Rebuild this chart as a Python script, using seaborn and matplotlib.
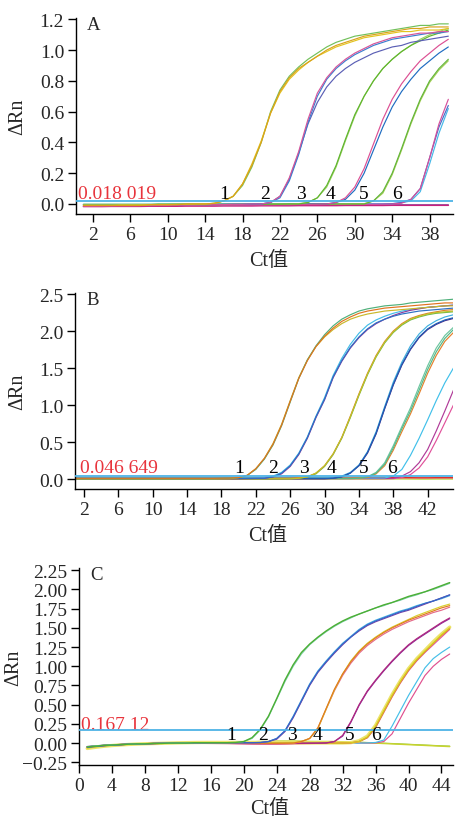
import matplotlib
matplotlib.use("Agg")
import matplotlib.pyplot as plt
import pandas as pd
import seaborn as sns

# ------------------------------------------------------------------ data
# ---------- panel A (cycles 1..40)
A_cycles = list(range(1, 41))
A_g1_orange = [-0.01, -0.01, -0.01, -0.01, -0.01, -0.01, -0.01, -0.005, -0.005, -0.005,
               -0.005, 0.0, 0.0, 0.0, 0.005, 0.02, 0.05, 0.13, 0.25, 0.40,
               0.59, 0.73, 0.82, 0.88, 0.92, 0.96, 1.00, 1.03, 1.05, 1.07,
               1.09, 1.10, 1.11, 1.12, 1.13, 1.14, 1.14, 1.15, 1.15, 1.15]
A_g1_green = [-0.005, -0.005, -0.005, -0.005, -0.005, -0.005, -0.005, -0.005, 0.0, 0.0,
              0.0, 0.0, 0.0, 0.0, 0.005, 0.02, 0.05, 0.12, 0.24, 0.40,
              0.60, 0.74, 0.83, 0.89, 0.94, 0.98, 1.02, 1.05, 1.07, 1.09,
              1.10, 1.11, 1.12, 1.13, 1.14, 1.15, 1.16, 1.16, 1.17, 1.17]
A_g1_yellow = [-0.008, -0.008, -0.008, -0.008, -0.006, -0.006, -0.006, -0.004, -0.004, -0.004,
               -0.002, -0.002, 0.0, 0.0, 0.004, 0.02, 0.05, 0.13, 0.26, 0.41,
               0.59, 0.72, 0.81, 0.87, 0.92, 0.96, 0.99, 1.02, 1.04, 1.06,
               1.08, 1.09, 1.10, 1.11, 1.12, 1.12, 1.13, 1.13, 1.13, 1.14]
A_g2_pink = [-0.012, -0.012, -0.012, -0.010, -0.010, -0.010, -0.010, -0.008, -0.008, -0.008,
             -0.006, -0.006, -0.006, -0.004, -0.004, -0.004, -0.002, -0.002, 0.0, 0.0,
             0.01, 0.05, 0.17, 0.34, 0.55, 0.72, 0.82, 0.89, 0.94, 0.98,
             1.01, 1.04, 1.06, 1.08, 1.09, 1.10, 1.11, 1.11, 1.12, 1.12]
A_g2_blue = [-0.004, -0.004, -0.004, -0.004, -0.004, -0.004, -0.004, -0.004, -0.004, -0.004,
             -0.003, -0.003, -0.003, -0.003, -0.003, -0.002, -0.002, -0.002, 0.0, 0.0,
             0.01, 0.04, 0.15, 0.32, 0.53, 0.70, 0.81, 0.88, 0.93, 0.97,
             1.00, 1.03, 1.05, 1.07, 1.08, 1.09, 1.10, 1.11, 1.11, 1.12]
A_g2_purple = [-0.006, -0.006, -0.006, -0.006, -0.006, -0.006, -0.005, -0.005, -0.005, -0.005,
               -0.004, -0.004, -0.004, -0.004, -0.003, -0.003, -0.002, -0.002, -0.001, 0.0,
               0.01, 0.05, 0.16, 0.33, 0.52, 0.66, 0.76, 0.83, 0.88, 0.92,
               0.95, 0.98, 1.00, 1.02, 1.03, 1.05, 1.06, 1.07, 1.08, 1.09]
A_g3_green = [-0.006, -0.006, -0.006, -0.006, -0.006, -0.006, -0.005, -0.005, -0.005, -0.005,
              -0.004, -0.004, -0.004, -0.004, -0.003, -0.003, -0.003, -0.002, -0.002, -0.002,
              -0.001, -0.001, 0.0, 0.0, 0.01, 0.04, 0.12, 0.25, 0.42, 0.58,
              0.70, 0.80, 0.88, 0.94, 0.99, 1.03, 1.06, 1.09, 1.11, 1.13]
A_g3_lgreen = [-0.003, -0.003, -0.003, -0.003, -0.003, -0.003, -0.003, -0.003, -0.002, -0.002,
               -0.002, -0.002, -0.002, -0.002, -0.002, -0.001, -0.001, -0.001, -0.001, 0.0,
               0.0, 0.0, 0.0, 0.002, 0.01, 0.04, 0.11, 0.24, 0.41, 0.57,
               0.70, 0.80, 0.88, 0.94, 0.99, 1.03, 1.07, 1.10, 1.12, 1.14]
A_g4_pink = [-0.010, -0.010, -0.010, -0.010, -0.009, -0.009, -0.009, -0.008, -0.008, -0.008,
             -0.007, -0.007, -0.007, -0.006, -0.006, -0.006, -0.005, -0.005, -0.005, -0.004,
             -0.004, -0.003, -0.003, -0.002, -0.002, -0.001, 0.0, 0.01, 0.04, 0.11,
             0.23, 0.39, 0.55, 0.68, 0.78, 0.86, 0.93, 0.98, 1.03, 1.07]
A_g4_blue = [-0.005, -0.005, -0.005, -0.005, -0.005, -0.005, -0.005, -0.005, -0.005, -0.004,
             -0.004, -0.004, -0.004, -0.004, -0.004, -0.003, -0.003, -0.003, -0.003, -0.002,
             -0.002, -0.002, -0.001, -0.001, 0.0, 0.0, 0.0, 0.01, 0.03, 0.09,
             0.20, 0.35, 0.50, 0.63, 0.73, 0.81, 0.88, 0.93, 0.98, 1.02]
A_g5_green = [-0.004, -0.004, -0.004, -0.004, -0.004, -0.004, -0.004, -0.004, -0.004, -0.004,
              -0.003, -0.003, -0.003, -0.003, -0.003, -0.003, -0.003, -0.003, -0.002, -0.002,
              -0.002, -0.002, -0.002, -0.002, -0.001, -0.001, -0.001, 0.0, 0.0, 0.0,
              0.0, 0.02, 0.08, 0.20, 0.36, 0.53, 0.68, 0.80, 0.88, 0.94]
A_g5_lgreen = [-0.002, -0.002, -0.002, -0.002, -0.002, -0.002, -0.002, -0.002, -0.002, -0.002,
               -0.002, -0.001, -0.001, -0.001, -0.001, -0.001, -0.001, -0.001, -0.001, 0.0,
               0.0, 0.0, 0.0, 0.0, 0.0, 0.001, 0.001, 0.001, 0.001, 0.002,
               0.002, 0.02, 0.07, 0.19, 0.35, 0.52, 0.67, 0.79, 0.87, 0.93]
A_g6_pink = [-0.014, -0.014, -0.013, -0.013, -0.012, -0.012, -0.011, -0.011, -0.010, -0.010,
             -0.009, -0.009, -0.008, -0.008, -0.008, -0.007, -0.007, -0.006, -0.006, -0.006,
             -0.005, -0.005, -0.005, -0.004, -0.004, -0.004, -0.003, -0.003, -0.003, -0.002,
             -0.002, -0.002, -0.001, 0.0, 0.005, 0.03, 0.10, 0.30, 0.52, 0.68]
A_g6_blue = [-0.006, -0.006, -0.006, -0.006, -0.006, -0.006, -0.006, -0.005, -0.005, -0.005,
             -0.005, -0.005, -0.005, -0.004, -0.004, -0.004, -0.004, -0.004, -0.003, -0.003,
             -0.003, -0.003, -0.003, -0.002, -0.002, -0.002, -0.002, -0.001, -0.001, -0.001,
             0.0, 0.0, 0.0, 0.002, 0.01, 0.03, 0.10, 0.30, 0.50, 0.64]
A_g6_lblue = [-0.002, -0.002, -0.002, -0.002, -0.002, -0.002, -0.002, -0.002, -0.002, -0.002,
              -0.001, -0.001, -0.001, -0.001, -0.001, -0.001, -0.001, -0.001, -0.001, -0.001,
              0.0, 0.0, 0.0, 0.0, 0.0, 0.0, 0.0, 0.0, 0.0, 0.0,
              0.0, 0.0, 0.0, 0.002, 0.008, 0.02, 0.08, 0.26, 0.46, 0.62]
A_neg_magenta = [-0.016, -0.016, -0.016, -0.015, -0.015, -0.015, -0.015, -0.014, -0.014, -0.014,
                 -0.014, -0.013, -0.013, -0.013, -0.013, -0.012, -0.012, -0.012, -0.012, -0.011,
                 -0.011, -0.011, -0.011, -0.010, -0.010, -0.010, -0.010, -0.010, -0.009, -0.009,
                 -0.009, -0.009, -0.009, -0.008, -0.008, -0.008, -0.008, -0.008, -0.008, -0.008]
A_neg_blue = [-0.004, -0.004, -0.004, -0.004, -0.004, -0.004, -0.004, -0.004, -0.004, -0.004,
              -0.005, -0.005, -0.005, -0.005, -0.005, -0.005, -0.005, -0.005, -0.005, -0.005,
              -0.005, -0.005, -0.005, -0.005, -0.005, -0.006, -0.006, -0.006, -0.006, -0.006,
              -0.006, -0.006, -0.006, -0.006, -0.006, -0.006, -0.006, -0.006, -0.006, -0.006]
A_threshold = 0.018019
A_threshold_text = "0.018 019"
A_xticks = [2, 6, 10, 14, 18, 22, 26, 30, 34, 38]
A_yticks = [0.0, 0.2, 0.4, 0.6, 0.8, 1.0, 1.2]
A_ytick_labels = ["0.0", "0.2", "0.4", "0.6", "0.8", "1.0", "1.2"]
A_num_x = [16.0, 20.45, 24.2, 27.4, 31.0, 34.55]
A_num_labels = ["1", "2", "3", "4", "5", "6"]

# ---------- panel B (cycles 1..45)
B_cycles = list(range(1, 46))
B1_orange = [0.010, 0.010, 0.010, 0.010, 0.010, 0.010, 0.010, 0.010, 0.010, 0.010,
             0.010, 0.010, 0.010, 0.010, 0.010, 0.010, 0.010, 0.012, 0.014, 0.02,
             0.05, 0.14, 0.28, 0.47, 0.73, 1.05, 1.36, 1.60, 1.79, 1.93,
             2.04, 2.13, 2.19, 2.24, 2.27, 2.29, 2.31, 2.32, 2.33, 2.34,
             2.35, 2.36, 2.37, 2.38, 2.38]
B1_green = [0.005, 0.005, 0.005, 0.005, 0.005, 0.005, 0.005, 0.005, 0.005, 0.005,
            0.005, 0.005, 0.005, 0.005, 0.005, 0.005, 0.006, 0.008, 0.010, 0.02,
            0.05, 0.13, 0.27, 0.46, 0.72, 1.04, 1.36, 1.61, 1.80, 1.95,
            2.07, 2.16, 2.22, 2.27, 2.30, 2.32, 2.34, 2.35, 2.36, 2.38,
            2.39, 2.40, 2.41, 2.42, 2.43]
B1_yellow = [0.002, 0.002, 0.002, 0.002, 0.002, 0.002, 0.002, 0.002, 0.002, 0.002,
             0.002, 0.002, 0.002, 0.002, 0.002, 0.002, 0.002, 0.004, 0.006, 0.02,
             0.05, 0.14, 0.28, 0.48, 0.74, 1.06, 1.37, 1.61, 1.79, 1.92,
             2.02, 2.10, 2.16, 2.20, 2.23, 2.25, 2.27, 2.28, 2.29, 2.30,
             2.31, 2.32, 2.33, 2.34, 2.34]
B2_blue = [0.008, 0.008, 0.008, 0.008, 0.008, 0.008, 0.008, 0.008, 0.008, 0.008,
           0.008, 0.008, 0.008, 0.008, 0.008, 0.008, 0.008, 0.008, 0.008, 0.008,
           0.009, 0.010, 0.01, 0.03, 0.08, 0.18, 0.34, 0.56, 0.84, 1.08,
           1.38, 1.60, 1.78, 1.92, 2.03, 2.11, 2.16, 2.20, 2.23, 2.25,
           2.27, 2.28, 2.29, 2.30, 2.31]
B2_purple = [0.004, 0.004, 0.004, 0.004, 0.004, 0.004, 0.004, 0.004, 0.004, 0.004,
             0.004, 0.004, 0.004, 0.004, 0.004, 0.004, 0.004, 0.004, 0.004, 0.004,
             0.006, 0.008, 0.01, 0.03, 0.07, 0.17, 0.33, 0.55, 0.83, 1.07,
             1.37, 1.59, 1.77, 1.91, 2.02, 2.10, 2.16, 2.21, 2.25, 2.28,
             2.30, 2.32, 2.33, 2.34, 2.35]
B2_lblue = [0.014, 0.014, 0.014, 0.014, 0.014, 0.014, 0.014, 0.014, 0.014, 0.014,
            0.014, 0.014, 0.014, 0.014, 0.014, 0.014, 0.014, 0.014, 0.014, 0.014,
            0.014, 0.015, 0.02, 0.04, 0.09, 0.19, 0.35, 0.57, 0.85, 1.10,
            1.40, 1.63, 1.82, 1.97, 2.08, 2.15, 2.20, 2.24, 2.27, 2.29,
            2.31, 2.32, 2.33, 2.34, 2.35]
B3_yellow = [0.002, 0.002, 0.002, 0.002, 0.002, 0.002, 0.002, 0.002, 0.002, 0.002,
             0.002, 0.002, 0.002, 0.002, 0.002, 0.002, 0.002, 0.002, 0.002, 0.002,
             0.002, 0.002, 0.002, 0.002, 0.002, 0.002, 0.01, 0.03, 0.08, 0.18,
             0.34, 0.56, 0.84, 1.14, 1.42, 1.66, 1.85, 1.99, 2.09, 2.16,
             2.20, 2.23, 2.25, 2.26, 2.27]
B3_orange = [0.012, 0.012, 0.012, 0.012, 0.012, 0.012, 0.012, 0.012, 0.012, 0.012,
             0.012, 0.012, 0.012, 0.012, 0.012, 0.012, 0.012, 0.012, 0.012, 0.012,
             0.012, 0.012, 0.012, 0.012, 0.012, 0.012, 0.02, 0.03, 0.08, 0.18,
             0.34, 0.56, 0.85, 1.15, 1.43, 1.67, 1.86, 2.00, 2.10, 2.17,
             2.21, 2.24, 2.26, 2.28, 2.29]
B3_green = [0.006, 0.006, 0.006, 0.006, 0.006, 0.006, 0.006, 0.006, 0.006, 0.006,
            0.006, 0.006, 0.006, 0.006, 0.006, 0.006, 0.006, 0.006, 0.006, 0.006,
            0.006, 0.006, 0.006, 0.006, 0.006, 0.006, 0.01, 0.03, 0.07, 0.17,
            0.33, 0.55, 0.83, 1.13, 1.41, 1.65, 1.84, 1.98, 2.08, 2.15,
            2.19, 2.22, 2.24, 2.25, 2.26]
B4_blue = [0.008, 0.008, 0.008, 0.008, 0.008, 0.008, 0.008, 0.008, 0.008, 0.008,
           0.008, 0.008, 0.008, 0.008, 0.008, 0.008, 0.008, 0.008, 0.008, 0.008,
           0.008, 0.008, 0.008, 0.008, 0.008, 0.008, 0.008, 0.008, 0.008, 0.008,
           0.01, 0.03, 0.08, 0.18, 0.36, 0.62, 0.96, 1.28, 1.55, 1.76,
           1.92, 2.03, 2.10, 2.15, 2.18]
B4_purple = [0.003, 0.003, 0.003, 0.003, 0.003, 0.003, 0.003, 0.003, 0.003, 0.003,
             0.003, 0.003, 0.003, 0.003, 0.003, 0.003, 0.003, 0.003, 0.003, 0.003,
             0.003, 0.003, 0.003, 0.003, 0.003, 0.003, 0.003, 0.003, 0.003, 0.003,
             0.01, 0.03, 0.08, 0.18, 0.35, 0.61, 0.95, 1.27, 1.54, 1.75,
             1.91, 2.02, 2.09, 2.14, 2.17]
B4_lblue = [0.016, 0.016, 0.016, 0.016, 0.016, 0.016, 0.016, 0.016, 0.016, 0.016,
            0.016, 0.016, 0.016, 0.016, 0.016, 0.016, 0.016, 0.016, 0.016, 0.016,
            0.016, 0.016, 0.016, 0.016, 0.016, 0.016, 0.016, 0.016, 0.016, 0.016,
            0.02, 0.04, 0.09, 0.19, 0.37, 0.64, 0.98, 1.31, 1.58, 1.80,
            1.96, 2.07, 2.14, 2.19, 2.22]
B5_green = [0.005, 0.005, 0.005, 0.005, 0.005, 0.005, 0.005, 0.005, 0.005, 0.005,
            0.005, 0.005, 0.005, 0.005, 0.005, 0.005, 0.005, 0.005, 0.005, 0.005,
            0.005, 0.005, 0.005, 0.005, 0.005, 0.005, 0.005, 0.005, 0.005, 0.005,
            0.005, 0.005, 0.005, 0.01, 0.03, 0.08, 0.20, 0.42, 0.68, 0.92,
            1.20, 1.48, 1.72, 1.90, 2.02]
B5_orange = [0.012, 0.012, 0.012, 0.012, 0.012, 0.012, 0.012, 0.012, 0.012, 0.012,
             0.012, 0.012, 0.012, 0.012, 0.012, 0.012, 0.012, 0.012, 0.012, 0.012,
             0.012, 0.012, 0.012, 0.012, 0.012, 0.012, 0.012, 0.012, 0.012, 0.012,
             0.012, 0.012, 0.012, 0.015, 0.02, 0.07, 0.18, 0.39, 0.64, 0.88,
             1.15, 1.43, 1.67, 1.86, 1.98]
B5_teal = [0.009, 0.009, 0.009, 0.009, 0.009, 0.009, 0.009, 0.009, 0.009, 0.009,
           0.009, 0.009, 0.009, 0.009, 0.009, 0.009, 0.009, 0.009, 0.009, 0.009,
           0.009, 0.009, 0.009, 0.009, 0.009, 0.009, 0.009, 0.009, 0.009, 0.009,
           0.009, 0.009, 0.009, 0.01, 0.03, 0.09, 0.22, 0.45, 0.71, 0.96,
           1.25, 1.53, 1.77, 1.94, 2.05]
B6_lblue = [0.014, 0.014, 0.014, 0.014, 0.014, 0.014, 0.014, 0.014, 0.014, 0.014,
            0.014, 0.014, 0.014, 0.014, 0.014, 0.014, 0.014, 0.014, 0.014, 0.014,
            0.014, 0.014, 0.014, 0.014, 0.014, 0.014, 0.014, 0.014, 0.014, 0.014,
            0.014, 0.014, 0.014, 0.014, 0.014, 0.014, 0.015, 0.04, 0.13, 0.32,
            0.55, 0.80, 1.06, 1.30, 1.50]
B6_magenta = [0.008, 0.008, 0.008, 0.008, 0.008, 0.008, 0.008, 0.008, 0.008, 0.008,
              0.008, 0.008, 0.008, 0.008, 0.008, 0.008, 0.008, 0.008, 0.008, 0.008,
              0.008, 0.008, 0.008, 0.008, 0.008, 0.008, 0.008, 0.008, 0.008, 0.008,
              0.008, 0.008, 0.008, 0.008, 0.008, 0.008, 0.008, 0.01, 0.04, 0.10,
              0.22, 0.40, 0.65, 0.92, 1.20]
B6_pink = [0.004, 0.004, 0.004, 0.004, 0.004, 0.004, 0.004, 0.004, 0.004, 0.004,
           0.004, 0.004, 0.004, 0.004, 0.004, 0.004, 0.004, 0.004, 0.004, 0.004,
           0.004, 0.004, 0.004, 0.004, 0.004, 0.004, 0.004, 0.004, 0.004, 0.004,
           0.004, 0.004, 0.004, 0.004, 0.004, 0.004, 0.004, 0.005, 0.02, 0.06,
           0.15, 0.30, 0.52, 0.76, 1.00]
B_neg_red = [0.018, 0.018, 0.019, 0.019, 0.018, 0.017, 0.017, 0.018, 0.019, 0.018,
             0.017, 0.016, 0.017, 0.018, 0.018, 0.017, 0.016, 0.016, 0.017, 0.018,
             0.018, 0.017, 0.016, 0.016, 0.017, 0.018, 0.018, 0.017, 0.016, 0.016,
             0.017, 0.018, 0.018, 0.017, 0.016, 0.016, 0.017, 0.018, 0.018, 0.017,
             0.016, 0.016, 0.017, 0.017, 0.017]
B_neg_lgreen = [0.0, 0.0, 0.001, 0.001, 0.0, -0.001, -0.001, 0.0, 0.001, 0.0,
                -0.001, -0.002, -0.001, 0.0, 0.0, -0.001, -0.002, -0.002, -0.001, 0.0,
                0.0, -0.001, -0.002, -0.002, -0.001, 0.0, 0.0, -0.001, -0.002, -0.002,
                -0.001, 0.0, 0.0, -0.001, -0.002, -0.002, -0.001, 0.0, 0.0, -0.001,
                -0.002, -0.002, -0.001, -0.001, -0.001]
B_threshold = 0.046649
B_threshold_text = "0.046 649"
B_xticks = [2, 6, 10, 14, 18, 22, 26, 30, 34, 38, 42]
B_yticks = [0.0, 0.5, 1.0, 1.5, 2.0, 2.5]
B_ytick_labels = ["0.0", "0.5", "1.0", "1.5", "2.0", "2.5"]
B_num_x = [20.1, 24.0, 27.6, 30.8, 34.5, 37.9]
B_num_labels = ["1", "2", "3", "4", "5", "6"]

# ---------- panel C (cycles 1..45)
C_cycles = list(range(1, 46))
C1_green = [-0.05, -0.04, -0.03, -0.025, -0.02, -0.015, -0.01, -0.01, -0.005, -0.005,
            0.0, 0.0, 0.0, 0.005, 0.005, 0.005, 0.005, 0.005, 0.008, 0.02,
            0.07, 0.18, 0.35, 0.58, 0.82, 1.02, 1.18, 1.29, 1.38, 1.46,
            1.53, 1.59, 1.64, 1.68, 1.72, 1.76, 1.80, 1.83, 1.87, 1.91,
            1.94, 1.97, 2.01, 2.05, 2.09]
C1_teal = [-0.045, -0.035, -0.028, -0.022, -0.018, -0.014, -0.01, -0.008, -0.005, -0.003,
           0.0, 0.0, 0.002, 0.004, 0.005, 0.005, 0.005, 0.006, 0.008, 0.02,
           0.06, 0.17, 0.34, 0.57, 0.80, 1.00, 1.16, 1.28, 1.37, 1.45,
           1.52, 1.58, 1.63, 1.68, 1.72, 1.76, 1.79, 1.83, 1.86, 1.90,
           1.93, 1.97, 2.00, 2.04, 2.08]
C2_blue = [-0.055, -0.045, -0.035, -0.028, -0.022, -0.016, -0.012, -0.01, -0.006, -0.004,
           -0.002, 0.0, 0.0, 0.003, 0.004, 0.005, 0.005, 0.005, 0.005, 0.005,
           0.005, 0.008, 0.02, 0.06, 0.16, 0.34, 0.55, 0.76, 0.93, 1.06,
           1.18, 1.29, 1.38, 1.47, 1.54, 1.59, 1.63, 1.67, 1.71, 1.74,
           1.78, 1.82, 1.85, 1.89, 1.93]
C2_purple = [-0.05, -0.04, -0.032, -0.026, -0.02, -0.015, -0.012, -0.008, -0.006, -0.004,
             -0.002, 0.0, 0.0, 0.002, 0.003, 0.004, 0.004, 0.004, 0.004, 0.004,
             0.004, 0.006, 0.02, 0.05, 0.15, 0.33, 0.54, 0.75, 0.92, 1.05,
             1.17, 1.28, 1.38, 1.46, 1.53, 1.58, 1.62, 1.66, 1.70, 1.73,
             1.77, 1.81, 1.85, 1.89, 1.93]
C2_lblue = [-0.048, -0.038, -0.03, -0.024, -0.019, -0.014, -0.01, -0.008, -0.005, -0.003,
            0.0, 0.0, 0.002, 0.004, 0.005, 0.006, 0.006, 0.006, 0.006, 0.006,
            0.006, 0.008, 0.02, 0.06, 0.16, 0.35, 0.56, 0.77, 0.94, 1.07,
            1.19, 1.30, 1.39, 1.48, 1.55, 1.60, 1.64, 1.68, 1.72, 1.75,
            1.79, 1.82, 1.85, 1.88, 1.92]
C3_orange = [-0.052, -0.042, -0.033, -0.026, -0.02, -0.016, -0.012, -0.009, -0.006, -0.004,
             -0.002, 0.0, 0.0, 0.002, 0.004, 0.004, 0.004, 0.004, 0.003, 0.002,
             0.0, -0.002, -0.003, -0.003, -0.002, 0.0, 0.02, 0.06, 0.20, 0.45,
             0.70, 0.90, 1.06, 1.19, 1.29, 1.37, 1.44, 1.50, 1.55, 1.60,
             1.64, 1.68, 1.72, 1.76, 1.79]
C3_yellow = [-0.06, -0.048, -0.036, -0.028, -0.022, -0.017, -0.012, -0.009, -0.006, -0.004,
             -0.002, 0.0, 0.002, 0.004, 0.005, 0.006, 0.006, 0.006, 0.006, 0.006,
             0.005, 0.004, 0.003, 0.002, 0.002, 0.004, 0.02, 0.06, 0.19, 0.44,
             0.69, 0.90, 1.07, 1.20, 1.30, 1.38, 1.45, 1.51, 1.56, 1.61,
             1.66, 1.70, 1.74, 1.78, 1.81]
C3_pink = [-0.05, -0.04, -0.032, -0.025, -0.02, -0.015, -0.011, -0.008, -0.006, -0.004,
           -0.003, -0.002, 0.0, 0.0, 0.0, 0.0, -0.002, -0.004, -0.006, -0.008,
           -0.01, -0.012, -0.012, -0.012, -0.01, -0.006, 0.02, 0.06, 0.19, 0.44,
           0.68, 0.88, 1.04, 1.17, 1.27, 1.35, 1.42, 1.48, 1.53, 1.58,
           1.62, 1.66, 1.70, 1.73, 1.77]
C4_magenta = [-0.05, -0.04, -0.032, -0.026, -0.02, -0.016, -0.012, -0.009, -0.006, -0.004,
              -0.002, 0.0, 0.0, 0.002, 0.003, 0.003, 0.002, 0.0, -0.002, -0.004,
              -0.006, -0.008, -0.008, -0.008, -0.006, -0.005, -0.004, -0.003, -0.002, 0.0,
              0.02, 0.10, 0.28, 0.50, 0.68, 0.82, 0.95, 1.07, 1.18, 1.28,
              1.36, 1.43, 1.50, 1.57, 1.63]
C4_purple = [-0.045, -0.036, -0.028, -0.022, -0.018, -0.014, -0.01, -0.007, -0.005, -0.003,
             -0.001, 0.0, 0.0, 0.002, 0.003, 0.004, 0.004, 0.004, 0.003, 0.002,
             0.0, -0.002, -0.003, -0.003, -0.003, -0.002, -0.001, 0.0, 0.0, 0.003,
             0.02, 0.09, 0.27, 0.49, 0.67, 0.81, 0.94, 1.06, 1.17, 1.27,
             1.35, 1.42, 1.49, 1.56, 1.62]
C5_yellow = [-0.065, -0.05, -0.038, -0.03, -0.023, -0.017, -0.012, -0.008, -0.005, -0.003,
             0.0, 0.002, 0.004, 0.005, 0.006, 0.006, 0.006, 0.006, 0.006, 0.006,
             0.006, 0.005, 0.004, 0.003, 0.002, 0.001, 0.0, 0.0, 0.0, 0.0,
             0.0, 0.0, 0.005, 0.02, 0.08, 0.22, 0.42, 0.62, 0.80, 0.96,
             1.09, 1.20, 1.30, 1.41, 1.50]
C5_orange = [-0.05, -0.04, -0.032, -0.025, -0.02, -0.015, -0.011, -0.008, -0.005, -0.003,
             -0.001, 0.0, 0.002, 0.003, 0.004, 0.004, 0.004, 0.003, 0.002, 0.0,
             -0.002, -0.004, -0.005, -0.005, -0.004, -0.003, -0.002, -0.001, 0.0, 0.0,
             0.0, 0.0, 0.003, 0.02, 0.07, 0.21, 0.41, 0.61, 0.79, 0.95,
             1.08, 1.19, 1.30, 1.40, 1.49]
C5_pink = [-0.048, -0.038, -0.03, -0.024, -0.019, -0.014, -0.01, -0.007, -0.005, -0.003,
           -0.002, -0.002, -0.002, -0.003, -0.004, -0.005, -0.006, -0.007, -0.008, -0.009,
           -0.01, -0.01, -0.01, -0.009, -0.008, -0.007, -0.006, -0.005, -0.004, -0.003,
           -0.002, 0.0, 0.003, 0.02, 0.07, 0.20, 0.40, 0.60, 0.78, 0.94,
           1.07, 1.18, 1.28, 1.38, 1.48]
C5_lyellow = [-0.07, -0.055, -0.042, -0.032, -0.025, -0.018, -0.013, -0.009, -0.006, -0.003,
              0.0, 0.003, 0.005, 0.007, 0.008, 0.008, 0.008, 0.008, 0.008, 0.008,
              0.008, 0.007, 0.006, 0.005, 0.004, 0.003, 0.002, 0.002, 0.002, 0.002,
              0.002, 0.002, 0.006, 0.03, 0.09, 0.23, 0.43, 0.63, 0.81, 0.97,
              1.10, 1.21, 1.32, 1.42, 1.51]
C6_lblue = [-0.05, -0.04, -0.032, -0.026, -0.02, -0.015, -0.011, -0.008, -0.005, -0.003,
            -0.001, 0.0, 0.002, 0.003, 0.004, 0.004, 0.004, 0.004, 0.004, 0.004,
            0.004, 0.003, 0.002, 0.001, 0.0, 0.0, 0.0, 0.0, 0.0, 0.0,
            0.0, 0.0, 0.0, 0.0, 0.002, 0.008, 0.04, 0.22, 0.42, 0.62,
            0.80, 0.98, 1.10, 1.18, 1.25]
C6_pink = [-0.052, -0.042, -0.034, -0.027, -0.021, -0.016, -0.012, -0.009, -0.006, -0.004,
           -0.002, 0.0, 0.0, 0.001, 0.001, 0.0, -0.002, -0.004, -0.006, -0.008,
           -0.01, -0.011, -0.012, -0.011, -0.01, -0.008, -0.006, -0.005, -0.004, -0.003,
           -0.002, -0.001, 0.0, 0.0, 0.0, 0.002, 0.02, 0.12, 0.32, 0.52,
           0.70, 0.88, 1.00, 1.09, 1.16]
C_neg_ygreen = [-0.06, -0.045, -0.035, -0.025, -0.02, -0.015, -0.01, -0.01, -0.005, 0.0,
                0.0, 0.0, 0.005, 0.005, 0.005, 0.01, 0.01, 0.01, 0.01, 0.015,
                0.015, 0.02, 0.02, 0.025, 0.025, 0.025, 0.025, 0.02, 0.02, 0.02,
                0.02, 0.015, 0.015, 0.01, 0.005, 0.0, -0.005, -0.01, -0.015, -0.02,
                -0.025, -0.03, -0.035, -0.04, -0.045]
C_neg_green = [-0.055, -0.042, -0.032, -0.024, -0.018, -0.013, -0.009, -0.007, -0.004, -0.001,
               0.0, 0.002, 0.004, 0.006, 0.008, 0.009, 0.01, 0.012, 0.013, 0.015,
               0.017, 0.018, 0.02, 0.021, 0.022, 0.022, 0.021, 0.02, 0.019, 0.018,
               0.016, 0.014, 0.012, 0.009, 0.006, 0.002, -0.002, -0.006, -0.011, -0.016,
               -0.021, -0.026, -0.031, -0.036, -0.04]
C_threshold = 0.16712
C_threshold_text = "0.167 12"
C_xticks = [0, 4, 8, 12, 16, 20, 24, 28, 32, 36, 40, 44]
C_yticks = [-0.25, 0.0, 0.25, 0.5, 0.75, 1.0, 1.25, 1.5, 1.75, 2.0, 2.25]
C_ytick_labels = ["\u22120.25", "0.00", "0.25", "0.50", "0.75", "1.00", "1.25",
                  "1.50", "1.75", "2.00", "2.25"]
C_num_x = [18.45, 22.3, 25.9, 29.0, 32.9, 36.0]
C_num_labels = ["1", "2", "3", "4", "5", "6"]

# ------------------------------------------------------------------ style
sns.set_style("ticks")
plt.rcParams["font.family"] = ["Liberation Serif", "Noto Sans CJK SC"]
plt.rcParams["axes.unicode_minus"] = True

THRESH_COLOR = "#4db3e6"
RED = "#e8343c"
FS = 14

fig = plt.figure(figsize=(4.55, 8.2), dpi=100)


def draw_panel(ax, cycles, curves, thresh, thresh_text, thresh_xy, num_x, num_labels,
               num_y, letter, xlim, ylim, xticks, yticks, ylabels, ylab_x, xlab_y):
    rows = []
    for name, vals, col, lw in curves:
        assert len(vals) == len(cycles), (name, len(vals))
        for c, v in zip(cycles, vals):
            rows.append((name, c, v))
    df = pd.DataFrame(rows, columns=["curve", "cycle", "dRn"])
    order = [c[0] for c in curves]
    pal = {c[0]: c[2] for c in curves}
    widths = {c[0]: c[3] for c in curves}
    sns.lineplot(data=df, x="cycle", y="dRn", hue="curve", hue_order=order,
                 palette=pal, estimator=None, legend=False, linewidth=0.85,
                 ax=ax)
    for line, name in zip(ax.get_lines(), order):
        line.set_linewidth(widths[name])
    ax.axhline(thresh, color=THRESH_COLOR, lw=1.3, zorder=4)
    ax.text(thresh_xy[0], thresh_xy[1], thresh_text, color=RED, fontsize=FS,
            ha="left", va="baseline")
    for x, lab in zip(num_x, num_labels):
        ax.text(x, num_y, lab, fontsize=FS, ha="center", va="baseline", color="black",
                zorder=5)
    ax.text(0.03, 0.944, letter, transform=ax.transAxes, fontsize=13.5,
            ha="left", va="baseline")
    ax.set_xlim(*xlim)
    ax.set_ylim(*ylim)
    ax.set_xticks(xticks)
    ax.set_xticklabels([str(t) for t in xticks])
    ax.set_yticks(yticks)
    ax.set_yticklabels(ylabels)
    ax.tick_params(axis="both", direction="out", length=5.5, width=1.0,
                   labelsize=FS, pad=3, color="black")
    sns.despine(ax=ax)
    for s in ("left", "bottom"):
        ax.spines[s].set_linewidth(1.0)
        ax.spines[s].set_color("black")
    ax.set_ylabel("\u0394Rn", fontsize=14.5)
    ax.set_xlabel("Ct值", fontsize=14.5)
    ax.yaxis.set_label_coords(ylab_x, 0.5)
    ax.xaxis.set_label_coords(0.51, xlab_y)


axA = fig.add_axes([0.1670, 0.7378, 0.8286, 0.2390])
A_curves = [
    ("A_neg_blue", A_neg_blue, "#2a5fb0", 0.85),
    ("A_neg_magenta", A_neg_magenta, "#c8217e", 1.2),
    ("A_g6_lblue", A_g6_lblue, "#45b8e8", 0.85),
    ("A_g6_blue", A_g6_blue, "#4a6cc8", 0.85),
    ("A_g6_pink", A_g6_pink, "#d64f9a", 0.85),
    ("A_g5_lgreen", A_g5_lgreen, "#a4cf55", 0.85),
    ("A_g5_green", A_g5_green, "#63b53a", 0.85),
    ("A_g4_blue", A_g4_blue, "#1f6cc1", 0.85),
    ("A_g4_pink", A_g4_pink, "#dc4f93", 0.85),
    ("A_g3_lgreen", A_g3_lgreen, "#9bd164", 0.85),
    ("A_g3_green", A_g3_green, "#5fb52e", 0.85),
    ("A_g2_purple", A_g2_purple, "#5b5fb5", 0.85),
    ("A_g2_blue", A_g2_blue, "#3b7fd0", 0.85),
    ("A_g2_pink", A_g2_pink, "#d6559a", 0.85),
    ("A_g1_green", A_g1_green, "#71c05a", 0.85),
    ("A_g1_yellow", A_g1_yellow, "#e3c41f", 0.85),
    ("A_g1_orange", A_g1_orange, "#d9a21b", 0.85),
]
draw_panel(axA, A_cycles, A_curves, A_threshold, A_threshold_text, (0.45, 0.04),
           A_num_x, A_num_labels, 0.037, "A", (0.2, 40.5), (-0.065, 1.208),
           A_xticks, A_yticks, A_ytick_labels, -0.130, -0.19)

axB = fig.add_axes([0.1648, 0.4024, 0.8308, 0.2396])
B_curves = [
    ("B_neg_lgreen", B_neg_lgreen, "#b8d848", 0.85),
    ("B_neg_red", B_neg_red, "#e02a2a", 1.1),
    ("B6_pink", B6_pink, "#e0509a", 0.85),
    ("B6_magenta", B6_magenta, "#b03a98", 0.85),
    ("B6_lblue", B6_lblue, "#40c0ea", 0.85),
    ("B5_teal", B5_teal, "#6cc6a0", 0.85),
    ("B5_orange", B5_orange, "#e5802c", 0.85),
    ("B5_green", B5_green, "#55b888", 0.85),
    ("B4_lblue", B4_lblue, "#3fb0e0", 0.85),
    ("B4_purple", B4_purple, "#4a2a8a", 0.85),
    ("B4_blue", B4_blue, "#1f5fb5", 0.85),
    ("B3_green", B3_green, "#6ab84a", 0.85),
    ("B3_orange", B3_orange, "#e0812a", 0.85),
    ("B3_yellow", B3_yellow, "#bdc22a", 0.85),
    ("B2_lblue", B2_lblue, "#42bde8", 0.85),
    ("B2_purple", B2_purple, "#8a3a9e", 0.85),
    ("B2_blue", B2_blue, "#2d6fc4", 0.85),
    ("B1_yellow", B1_yellow, "#c9b82a", 0.85),
    ("B1_green", B1_green, "#4fb07a", 0.85),
    ("B1_orange", B1_orange, "#e0731f", 0.85),
]
draw_panel(axB, B_cycles, B_curves, B_threshold, B_threshold_text, (1.5, 0.09),
           B_num_x, B_num_labels, 0.09, "B", (0.95, 44.95), (-0.135, 2.52),
           B_xticks, B_yticks, B_ytick_labels, -0.127, -0.19)

axC = fig.add_axes([0.1736, 0.0659, 0.8220, 0.2402])
C_curves = [
    ("C_neg_green", C_neg_green, "#8cc63f", 0.85),
    ("C_neg_ygreen", C_neg_ygreen, "#c8d430", 1.1),
    ("C6_pink", C6_pink, "#e0508f", 0.85),
    ("C6_lblue", C6_lblue, "#45bfe8", 0.85),
    ("C5_lyellow", C5_lyellow, "#ece46a", 2.4),
    ("C5_pink", C5_pink, "#e4559a", 0.85),
    ("C5_orange", C5_orange, "#e0892a", 0.85),
    ("C5_yellow", C5_yellow, "#d6cc1e", 0.85),
    ("C4_purple", C4_purple, "#8c2a9a", 0.85),
    ("C4_magenta", C4_magenta, "#b0287f", 0.85),
    ("C3_pink", C3_pink, "#e46a8a", 0.85),
    ("C3_yellow", C3_yellow, "#d8d02a", 0.85),
    ("C3_orange", C3_orange, "#e07a1f", 0.85),
    ("C2_lblue", C2_lblue, "#45b4e3", 0.85),
    ("C2_purple", C2_purple, "#7a3fa3", 0.85),
    ("C2_blue", C2_blue, "#3566c8", 0.85),
    ("C1_teal", C1_teal, "#7dcfa8", 0.85),
    ("C1_green", C1_green, "#4caf35", 1.0),
]
draw_panel(axC, C_cycles, C_curves, C_threshold, C_threshold_text, (0.3, 0.18),
           C_num_x, C_num_labels, 0.05, "C", (0.0, 45.4), (-0.285, 2.28),
           C_xticks, C_yticks, C_ytick_labels, -0.150, -0.172)

fig.savefig("out.png", dpi=100)
